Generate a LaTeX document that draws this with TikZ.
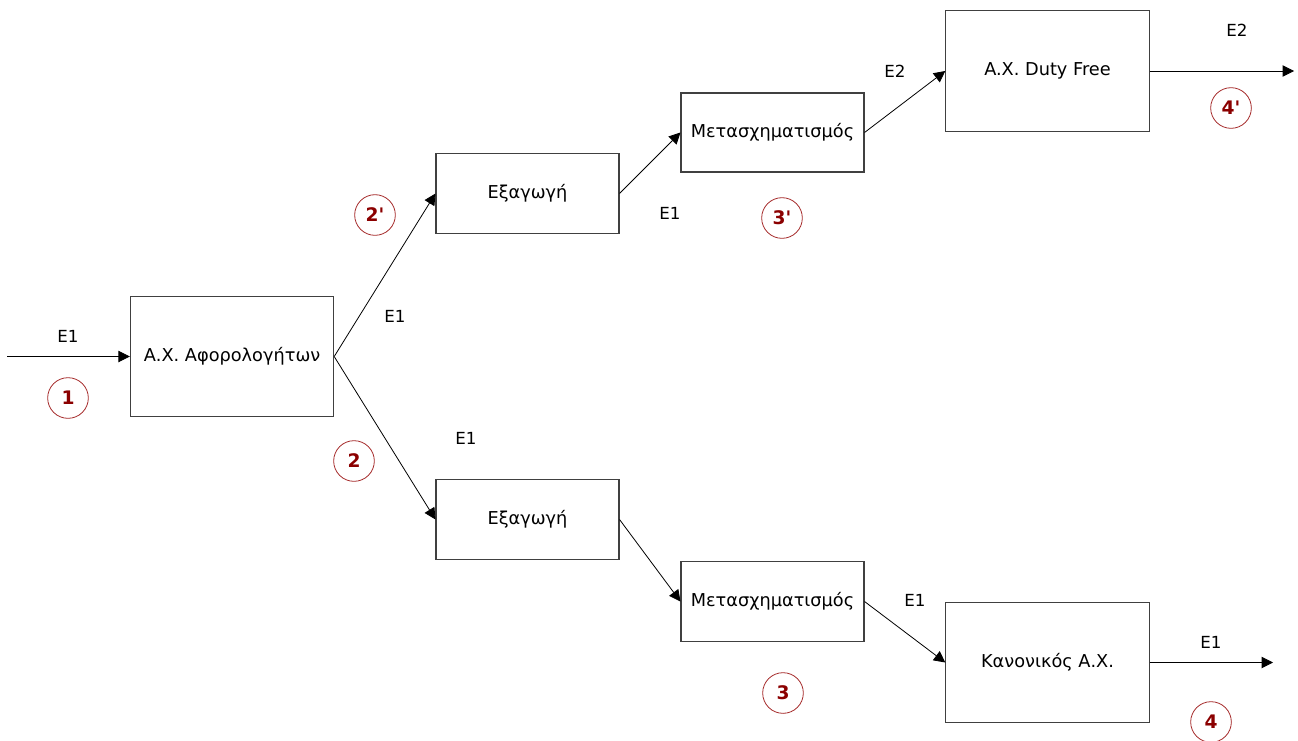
\documentclass[tikz,border=0pt]{standalone}
\usepackage{fontspec}
\setmainfont{DejaVu Sans}
\usetikzlibrary{arrows.meta}
\definecolor{boxline}{HTML}{404040}
\definecolor{numred}{HTML}{8B0000}
\definecolor{ringred}{HTML}{A52A2A}
\tikzset{
  procbox/.style={draw=boxline, line width=0.8pt, inner sep=0pt, font=\fontsize{13.3}{15}\selectfont},
  bigbox/.style={procbox, minimum width=152.5pt, minimum height=90.5pt},
  smallbox/.style={procbox, minimum width=137.25pt, minimum height=60.5pt},
  flow/.style={draw=black, line width=0.6pt, -{Triangle[length=8.5pt,width=8.5pt]}},
  flowlabel/.style={font=\fontsize{12.5}{15}\selectfont, inner sep=0pt},
  stepnum/.style={draw=ringred, line width=0.6pt, circle, minimum size=30.5pt, inner sep=0pt, text=numred, font=\fontsize{14}{16}\selectfont\bfseries}
}
\begin{document}
\begin{tikzpicture}[x=0.75pt,y=-0.75pt]
\useasboundingbox (0,0) rectangle (1298,740);
% boxes
\node[bigbox] (ax) at (232,356.5) {Α.Χ. Αφορολογήτων};
\node[smallbox] (exu) at (527.5,193.5) {Εξαγωγή};
\node[smallbox] (exd) at (527.5,519.5) {Εξαγωγή};
\node[smallbox, minimum height=59.25pt] (metu) at (772.5,132.5) {Μετασχηματισμός};
\node[smallbox] (metd) at (772.5,601.5) {Μετασχηματισμός};
\node[bigbox] (df) at (1047.5,71) {A.X. Duty Free};
\node[bigbox] (kan) at (1047.5,662.5) {Κανονικός Α.Χ.};
% free ends
\coordinate (in) at (7,356.5);
\coordinate (outu) at (1294,71);
\coordinate (outd) at (1273,662.5);
% connectors
\draw[flow] (in) -- (ax.west);
\draw[flow] (ax.east) -- (exu.west);
\draw[flow] (ax.east) -- (exd.west);
\draw[flow] (exu.east) -- (metu.west);
\draw[flow] (exd.east) -- (metd.west);
\draw[flow] (metu.east) -- (df.west);
\draw[flow] (metd.east) -- (kan.west);
\draw[flow] (df.east) -- (outu);
\draw[flow] (kan.east) -- (outd);
% flow labels
\node[flowlabel] (l1) at (68,336) {E1};
\node[flowlabel] (l2) at (395,316) {E1};
\node[flowlabel] (l3) at (466,438) {E1};
\node[flowlabel] (l4) at (670,213) {E1};
\node[flowlabel] (l5) at (895,71) {E2};
\node[flowlabel] (l6) at (1237,30) {E2};
\node[flowlabel] (l7) at (915,600) {E1};
\node[flowlabel] (l8) at (1211,642) {E1};
% step numbers
\node[stepnum] (s1) at (68,398) {1};
\node[stepnum] (s2p) at (375,215) {2\textquotesingle};
\node[stepnum] (s2) at (354,461) {2};
\node[stepnum] (s3p) at (782,218) {3\textquotesingle};
\node[stepnum] (s3) at (783,693) {3};
\node[stepnum] (s4p) at (1231,108) {4\textquotesingle};
\node[stepnum] (s4) at (1211,722) {4};
\end{tikzpicture}
\end{document}
